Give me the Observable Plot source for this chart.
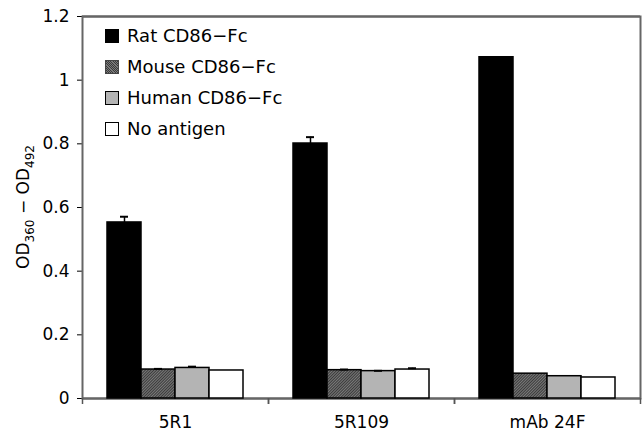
<!DOCTYPE html>
<html>
<head>
<meta charset="utf-8">
<script src="https://cdn.jsdelivr.net/npm/d3@7"></script>
<script src="https://cdn.jsdelivr.net/npm/@observablehq/plot@0.6"></script>
<style>
  html, body { margin: 0; padding: 0; background: #fff; }
  #wrap { position: relative; width: 643px; height: 433px; font-family: "DejaVu Sans", Verdana, sans-serif; }
  #legend { position: absolute; left: 105px; top: 20px; font-size: 18px; color: #000; }
  .row { display: flex; align-items: center; height: 31px; }
  .sw { width: 12px; height: 12px; border: 1px solid #000; margin-right: 8px; box-sizing: content-box; }
</style>
</head>
<body>
<div id="wrap"><div id="legend"></div></div>
<script>
// ---- data ----
const categories = ["5R1", "5R109", "mAb 24F"];
const series = ["Rat CD86−Fc", "Mouse CD86−Fc", "Human CD86−Fc", "No antigen"];
const ratValues   = [0.553, 0.801, 1.072];
const ratErrors   = [0.018, 0.020, 0];
const mouseValues = [0.091, 0.089, 0.078];
const mouseErrors = [0.002, 0.002, 0];
const humanValues = [0.096, 0.086, 0.070];
const humanErrors = [0.004, 0.001, 0];
const noneValues  = [0.088, 0.091, 0.066];
const noneErrors  = [0, 0.004, 0];
const yTicks = [0, 0.2, 0.4, 0.6, 0.8, 1, 1.2];
const yLabel = ["OD", "360", " − OD", "492"];

const seriesColors = ["#000000", "url(#hatch)", "#b4b4b4", "#ffffff"];

const valueSets = [ratValues, mouseValues, humanValues, noneValues];
const errorSets = [ratErrors, mouseErrors, humanErrors, noneErrors];
const data = [];
categories.forEach((c, i) => series.forEach((s, j) => {
  data.push({category: c, series: s, value: valueSets[j][i], err: errorSets[j][i]});
}));
const errData = data.filter(d => d.err > 0);

const font = "DejaVu Sans, Verdana, sans-serif";
const chart = Plot.plot({
  width: 643,
  height: 433,
  marginLeft: 82,
  marginRight: 3,
  marginTop: 16,
  marginBottom: 35,
  style: {fontFamily: font, fontSize: "17px", color: "#000", background: "#fff"},
  fx: {domain: categories, padding: 0, label: null, axis: null},
  x: {domain: series, paddingInner: 0, paddingOuter: 0.72, axis: null},
  y: {domain: [0, 1.2], ticks: yTicks, tickFormat: d => d3.format("~g")(d), tickSize: 5, tickPadding: 8, label: null},
  color: {domain: series, range: seriesColors},
  marks: [
    Plot.ruleY([0, 1.2], {stroke: "#555", strokeWidth: 2}),
    Plot.frame({facet: "super", stroke: "#666", strokeWidth: 2}),
    Plot.axisFx({anchor: "bottom", tickSize: 0, tickPadding: 17, label: null, fontSize: 17}),
    Plot.axisFx({anchor: "bottom", tickSize: 6, tickFormat: () => "", label: null, dx: -93, stroke: "#555", strokeWidth: 1.5}),
    Plot.axisFx({anchor: "bottom", tickSize: 6, tickFormat: () => "", label: null, dx: 93, stroke: "#555", strokeWidth: 1.5}),
    Plot.barY(data, {fx: "category", x: "series", y: "value", fill: "series", stroke: "#000", strokeWidth: 1.5}),
    Plot.ruleX(errData, {fx: "category", x: "series", y1: "value", y2: d => d.value + d.err, stroke: "#000", strokeWidth: 1.5}),
    Plot.tickY(errData, {fx: "category", x: "series", y: d => d.value + d.err, stroke: "#000", strokeWidth: 2, insetLeft: 13, insetRight: 13})
  ]
});

// hatch pattern for the mouse series
const svg = d3.select(chart.tagName.toLowerCase() === "svg" ? chart : chart.querySelector("svg"));
const defs = svg.insert("defs", ":first-child");
const pat = defs.append("pattern").attr("id", "hatch").attr("width", 2).attr("height", 2)
  .attr("patternUnits", "userSpaceOnUse").attr("patternTransform", "rotate(45)");
pat.append("rect").attr("width", 2).attr("height", 2).attr("fill", "#7a7a7a");
pat.append("rect").attr("width", 1).attr("height", 2).attr("fill", "#3a3a3a");

// y-axis label with subscripts
const lab = svg.append("text")
  .attr("transform", `translate(29,${(16 + 433 - 35) / 2}) rotate(-90)`)
  .attr("text-anchor", "middle")
  .attr("font-family", font)
  .attr("font-size", 17)
  .attr("fill", "#000");
yLabel.forEach((t, i) => {
  const sp = lab.append("tspan").text(t);
  if (i % 2 === 1) { sp.attr("font-size", 12).attr("dy", 5); }
  else if (i > 0) { sp.attr("dy", -5); }
});

document.getElementById("wrap").prepend(chart);

// legend
const leg = d3.select("#legend");
series.forEach((s, i) => {
  const row = leg.append("div").attr("class", "row");
  const sw = row.append("div").attr("class", "sw");
  if (i === 1) sw.style("background", "repeating-linear-gradient(45deg, #3a3a3a 0 0.8px, #7a7a7a 0.8px 1.6px)").style("border-color", "#444");
  else sw.style("background", seriesColors[i]);
  row.append("span").text(s);
});
</script>
</body>
</html>
